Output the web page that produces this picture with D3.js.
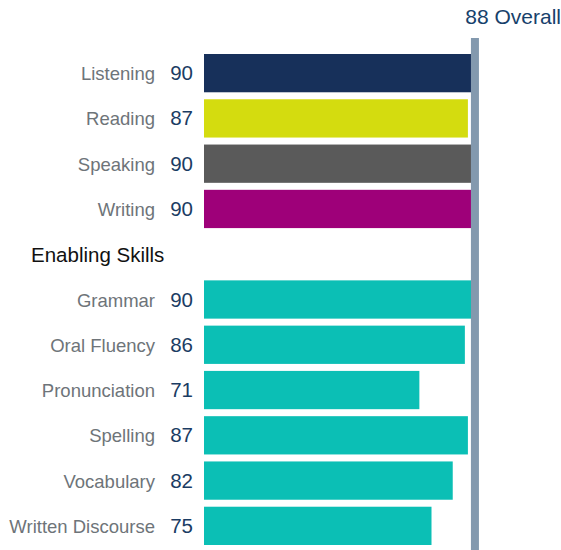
<!DOCTYPE html>
<html>
<head>
<meta charset="utf-8">
<script src="https://cdn.jsdelivr.net/npm/d3@7"></script>
<style>
  body { margin: 0; background: #fff; }
  text { font-family: Arial, Helvetica, "Liberation Sans", sans-serif; }
</style>
</head>
<body>
<script>
var communicative = ['Listening', 'Reading', 'Speaking', 'Writing']
var communicativeScores = [90, 87, 90, 90]
var communicativeColors = ['#17305a', '#d4dc0f', '#5a5a5a', '#9e0079']

var enabling = ['Grammar', 'Oral Fluency', 'Pronunciation', 'Spelling', 'Vocabulary', 'Written Discourse']
var enablingScores = [90, 86, 71, 87, 82, 75]

var overall = 88
var maxScore = 90

var width = 561, height = 550
var svg = d3.select('body').append('svg')
  .attr('width', width)
  .attr('height', height);

// one band per row, the heading takes a row of its own
var rows = communicative.concat(['Enabling Skills'], enabling)
var rowsData = communicative.map((d, i) => ({ name: d, score: communicativeScores[i], color: communicativeColors[i] }))
  .concat(enabling.map((d, i) => ({ name: d, score: enablingScores[i], color: '#0bbfb5' })))

var y = d3.scaleBand()
  .domain(rows)
  .range([54, 545])
  .paddingInner(7 / 45.3)
  .paddingOuter(0);

var x = d3.scaleLinear()
  .domain([0, maxScore])
  .range([204, 477]);

svg.selectAll('rect.bar')
  .data(rowsData)
  .enter().append('rect')
    .attr('class', 'bar')
    .attr('x', x(0))
    .attr('y', d => y(d.name))
    .attr('width', d => x(d.score) - x(0))
    .attr('height', y.bandwidth())
    .attr('fill', d => d.color);

svg.selectAll('text.name')
  .data(rowsData)
  .enter().append('text')
    .attr('class', 'name')
    .attr('x', 155)
    .attr('y', d => y(d.name) + y.bandwidth() / 2 + 7)
    .attr('text-anchor', 'end')
    .attr('font-size', 18.5)
    .attr('fill', '#6e7479')
    .text(d => d.name);

svg.selectAll('text.score')
  .data(rowsData)
  .enter().append('text')
    .attr('class', 'score')
    .attr('x', 193)
    .attr('y', d => y(d.name) + y.bandwidth() / 2 + 7)
    .attr('text-anchor', 'end')
    .attr('font-size', 20.5)
    .attr('fill', '#1b3c63')
    .text(d => d.score);

svg.append('text')
  .attr('x', 31)
  .attr('y', y('Enabling Skills') + y.bandwidth() / 2 + 8)
  .attr('font-size', 20.5)
  .attr('fill', '#111')
  .text('Enabling Skills');

// overall marker
svg.append('rect')
  .attr('x', x(overall))
  .attr('y', 38)
  .attr('width', 8)
  .attr('height', height - 38)
  .attr('fill', '#8399ae');

svg.append('text')
  .attr('x', width)
  .attr('y', 24)
  .attr('text-anchor', 'end')
  .attr('font-size', 21)
  .attr('fill', '#17416b')
  .text(overall + ' Overall');
</script>
</body>
</html>
